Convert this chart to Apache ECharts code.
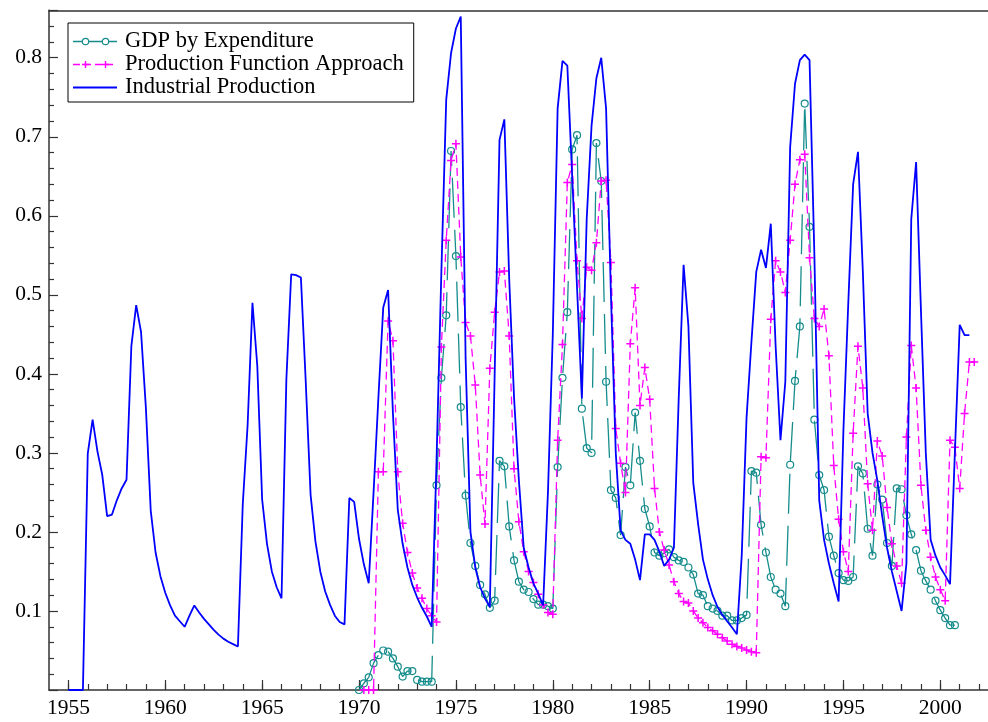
<!DOCTYPE html>
<html><head><meta charset="utf-8">
<script src="https://cdn.jsdelivr.net/npm/echarts/dist/echarts.min.js"></script>
<style>html,body{margin:0;padding:0;background:#fff}#chart{width:988px;height:722px}</style>
</head><body><div id="chart"></div>
<script>
// ---- data (quarterly) ----
const seriesNames = ['GDP by Expenditure', 'Production Function Approach', 'Industrial Production'];

const ipStart = 1955;
const ipValues = [
  0, 0, 0, 0,
  0.299, 0.342, 0.302, 0.272,
  0.220, 0.222, 0.240, 0.255,
  0.266, 0.435, 0.487, 0.453,
  0.357, 0.227, 0.174, 0.144,
  0.123, 0.107, 0.094, 0.087,
  0.080, 0.094, 0.107, 0.098,
  0.090, 0.083, 0.076, 0.070,
  0.065, 0.061, 0.058, 0.055,
  0.235, 0.335, 0.490, 0.410,
  0.241, 0.185, 0.150, 0.130,
  0.116, 0.393, 0.526, 0.525,
  0.522, 0.390, 0.247, 0.188,
  0.150, 0.125, 0.108, 0.094,
  0.086, 0.083, 0.243, 0.238,
  0.191, 0.159, 0.135, 0.25,
  0.37, 0.484, 0.506, 0.35,
  0.228, 0.185, 0.155, 0.133,
  0.117, 0.104, 0.093, 0.080,
  0.29, 0.53, 0.747, 0.806,
  0.837, 0.852, 0.42, 0.20,
  0.155, 0.13, 0.116, 0.105,
  0.40, 0.696, 0.722, 0.52,
  0.37, 0.265, 0.18, 0.155,
  0.135, 0.122, 0.107, 0.25,
  0.45, 0.736, 0.796, 0.790,
  0.65, 0.51, 0.369, 0.596,
  0.714, 0.774, 0.800, 0.736,
  0.50, 0.30, 0.202, 0.19,
  0.185, 0.165, 0.139, 0.197,
  0.197, 0.19, 0.175, 0.157,
  0.165, 0.18, 0.37, 0.538,
  0.46, 0.262, 0.21, 0.165,
  0.14, 0.12, 0.105, 0.095,
  0.087, 0.079, 0.0705, 0.17,
  0.345, 0.44, 0.529, 0.557,
  0.534, 0.59, 0.435, 0.316,
  0.39, 0.687, 0.767, 0.797,
  0.804, 0.797, 0.55, 0.24,
  0.19, 0.16, 0.135, 0.112,
  0.33, 0.49, 0.64, 0.681,
  0.53, 0.35, 0.30, 0.265,
  0.22, 0.18, 0.15, 0.125,
  0.10, 0.16, 0.596, 0.668,
  0.48, 0.30, 0.19, 0.17,
  0.155, 0.145, 0.134, 0.30,
  0.462, 0.449, 0.449
];

const gdpStart = 1970;
const gdpValues = [
  0, 0.0085, 0.016, 0.034,
  0.044, 0.050, 0.0485, 0.040,
  0.0295, 0.017, 0.024, 0.024,
  0.0127, 0.0105, 0.0105, 0.0105,
  0.259, 0.395, 0.474, 0.682,
  0.549, 0.358, 0.246, 0.186,
  0.157, 0.133, 0.121, 0.104,
  0.113, 0.29, 0.283, 0.207,
  0.164, 0.137, 0.127, 0.124,
  0.115, 0.108, 0.108, 0.106,
  0.103, 0.282, 0.395, 0.478,
  0.684, 0.702, 0.356, 0.306,
  0.300, 0.692, 0.644, 0.39,
  0.253, 0.243, 0.196, 0.282,
  0.259, 0.351, 0.29, 0.229,
  0.207, 0.174, 0.17, 0.173,
  0.178, 0.168, 0.164, 0.162,
  0.155, 0.146, 0.122, 0.12,
  0.106, 0.103, 0.1, 0.094,
  0.094, 0.088, 0.088, 0.091,
  0.095, 0.277, 0.275, 0.209,
  0.174, 0.143, 0.127, 0.122,
  0.106, 0.285, 0.391, 0.46,
  0.742, 0.586, 0.342, 0.272,
  0.253, 0.194, 0.17, 0.148,
  0.139, 0.138, 0.143, 0.283,
  0.274, 0.204, 0.17, 0.26,
  0.241, 0.186, 0.157, 0.255,
  0.254, 0.221, 0.197, 0.177,
  0.151, 0.138, 0.127, 0.113,
  0.101, 0.091, 0.082, 0.082
];

const pfStart = 1970.25;
const pfValues = [
  0, 0, 0,
  0.276, 0.276, 0.467, 0.442,
  0.276, 0.211, 0.174, 0.148,
  0.129, 0.116, 0.103, 0.094,
  0.086, 0.434, 0.569, 0.67,
  0.691, 0.548, 0.465, 0.448,
  0.386, 0.272, 0.21, 0.407,
  0.478, 0.529, 0.530, 0.448,
  0.28, 0.213, 0.175, 0.15,
  0.136, 0.121, 0.108, 0.098,
  0.096, 0.316, 0.437, 0.642,
  0.665, 0.543, 0.47, 0.535,
  0.531, 0.566, 0.644, 0.645,
  0.541, 0.331, 0.287, 0.25,
  0.438, 0.509, 0.36, 0.408,
  0.368, 0.255, 0.20, 0.177,
  0.158, 0.137, 0.122, 0.112,
  0.11, 0.1, 0.091, 0.085,
  0.079, 0.075, 0.0705, 0.066,
  0.062, 0.058, 0.055, 0.053,
  0.0506, 0.0485, 0.047, 0.295,
  0.294, 0.469, 0.543, 0.529,
  0.503, 0.569, 0.64, 0.671,
  0.678, 0.547, 0.47, 0.46,
  0.482, 0.423, 0.284, 0.216,
  0.175, 0.15, 0.325, 0.435,
  0.382, 0.261, 0.202, 0.315,
  0.296, 0.231, 0.185, 0.157,
  0.135, 0.32, 0.436, 0.382,
  0.259, 0.202, 0.168, 0.143,
  0.127, 0.113, 0.316, 0.307,
  0.255, 0.35, 0.415, 0.415
];

const xMajorYears = [1955, 1960, 1965, 1970, 1975, 1980, 1985, 1990, 1995, 2000];
const yTickLabels = ['0.1', '0.2', '0.3', '0.4', '0.5', '0.6', '0.7', '0.8'];

// ---- helpers ----
const STEP = 0.25;
function toPairs(start, values) { return values.map((v, i) => [start + i * STEP, v]); }

const TEAL = '#168c8c', PINK = '#ff00ff', BLUE = '#0000ff';
const FONT = 'Liberation Serif';

function svgIcon(inner) {
  const svg = "<svg xmlns='http://www.w3.org/2000/svg' width='47' height='14'>" + inner + "</svg>";
  return 'image://data:image/svg+xml;charset=utf-8,' + encodeURIComponent(svg);
}
const iconGdp = svgIcon(
  "<line x1='0' y1='7' x2='44' y2='7' stroke='" + TEAL + "' stroke-width='1.3'/>" +
  "<circle cx='12.5' cy='7' r='3.2' fill='white' stroke='" + TEAL + "' stroke-width='1.2'/>" +
  "<circle cx='32.5' cy='7' r='3.2' fill='white' stroke='" + TEAL + "' stroke-width='1.2'/>");
const iconPf = svgIcon(
  "<line x1='0' y1='7' x2='44' y2='7' stroke='" + PINK + "' stroke-width='1.3' stroke-dasharray='7 4'/>" +
  "<path d='M9 7H16M12.5 3.5V10.5M29 7H36M32.5 3.5V10.5' stroke='" + PINK + "' stroke-width='1.4' fill='none'/>");
const iconIp = svgIcon("<line x1='0' y1='7' x2='44' y2='7' stroke='" + BLUE + "' stroke-width='1.8'/>");

const GRID = { left: 49, right: -2, top: 10.3, bottom: 32 };
const XMIN = 1954, XMAX = 2002.46;
const AXIS_COLOR = '#333';

const chart = echarts.init(document.getElementById('chart'), null, { renderer: 'canvas' });
chart.setOption({
  animation: false,
  backgroundColor: '#fff',
  grid: [Object.assign({ containLabel: false }, GRID), Object.assign({ containLabel: false }, GRID)],
  legend: {
    orient: 'vertical',
    left: 68, top: 23,
    padding: [7, 10, 3, 5],
    itemGap: 0,
    itemWidth: 47, itemHeight: 14,
    borderColor: '#000', borderWidth: 1,
    backgroundColor: '#fff',
    selectedMode: false,
    textStyle: { fontFamily: FONT, fontSize: 22.5, color: '#000', lineHeight: 22.5 },
    data: [
      { name: seriesNames[0], icon: iconGdp },
      { name: seriesNames[1], icon: iconPf },
      { name: seriesNames[2], icon: iconIp }
    ]
  },
  xAxis: [
    {
      gridIndex: 0, type: 'value', position: 'bottom', min: XMIN, max: XMAX, interval: 1,
      axisLine: { show: true, onZero: false, lineStyle: { color: AXIS_COLOR, width: 1.5 } },
      axisTick: { show: true, inside: true, length: 6, lineStyle: { color: AXIS_COLOR, width: 1.2 } },
      axisLabel: {
        show: true, margin: 7, fontFamily: FONT, fontSize: 21.5, color: '#000',
        showMaxLabel: false, showMinLabel: false,
        formatter: v => (xMajorYears.indexOf(Math.round(v)) >= 0 && Math.abs(v - Math.round(v)) < 1e-6) ? String(Math.round(v)) : ''
      },
      splitLine: { show: false }
    },
    {
      gridIndex: 0, type: 'value', position: 'top', min: XMIN, max: XMAX,
      axisLine: { show: true, onZero: false, lineStyle: { color: AXIS_COLOR, width: 1.5 } },
      axisTick: { show: false }, axisLabel: { show: false }, splitLine: { show: false }
    },
    {
      gridIndex: 1, type: 'value', position: 'bottom', min: XMIN, max: XMAX,
      axisLine: { show: false, onZero: false },
      axisTick: { show: true, inside: true, length: 10, customValues: xMajorYears, lineStyle: { color: AXIS_COLOR, width: 1.2 } },
      axisLabel: { show: false }, splitLine: { show: false }
    }
  ],
  yAxis: [
    {
      gridIndex: 0, type: 'value', position: 'left', min: 0, max: 0.86, interval: 0.1,
      axisLine: { show: true, onZero: false, lineStyle: { color: AXIS_COLOR, width: 1.5 } },
      axisTick: { show: true, inside: true, length: 9, lineStyle: { color: AXIS_COLOR, width: 1.2 } },
      minorTick: { show: true, splitNumber: 5, length: 5, lineStyle: { color: AXIS_COLOR, width: 1.2 } },
      axisLabel: {
        show: true, margin: 7, fontFamily: FONT, fontSize: 21.5, color: '#000',
        showMaxLabel: false,
        formatter: v => { const s = v.toFixed(1); return yTickLabels.indexOf(s) >= 0 && Math.abs(v - parseFloat(s)) < 1e-6 ? s : ''; }
      },
      splitLine: { show: false }, minorSplitLine: { show: false }
    },
    {
      gridIndex: 1, type: 'value', min: 0, max: 0.86, show: false
    }
  ],
  series: [
    {
      name: seriesNames[0], type: 'line', xAxisIndex: 0, yAxisIndex: 0,
      data: toPairs(gdpStart, gdpValues),
      symbol: 'circle', symbolSize: 7, showAllSymbol: true,
      itemStyle: { color: 'rgba(255,255,255,0)', borderColor: TEAL, borderWidth: 1.2 },
      lineStyle: { color: TEAL, width: 1.3, type: [40, 12] },
      emphasis: { disabled: true }, z: 3
    },
    {
      name: seriesNames[1], type: 'line', xAxisIndex: 0, yAxisIndex: 0,
      data: toPairs(pfStart, pfValues),
      symbol: 'path://M0,5H10M5,0V10', symbolSize: 8, showAllSymbol: true,
      itemStyle: { color: 'rgba(255,255,255,0)', borderColor: PINK, borderWidth: 1.5 },
      lineStyle: { color: PINK, width: 1.3, type: [8, 5] },
      emphasis: { disabled: true }, z: 4
    },
    {
      name: seriesNames[2], type: 'line', xAxisIndex: 0, yAxisIndex: 0,
      data: toPairs(ipStart, ipValues),
      symbol: 'none',
      itemStyle: { color: BLUE },
      lineStyle: { color: BLUE, width: 1.8 },
      emphasis: { disabled: true }, z: 5
    }
  ]
});
</script>
</body></html>
